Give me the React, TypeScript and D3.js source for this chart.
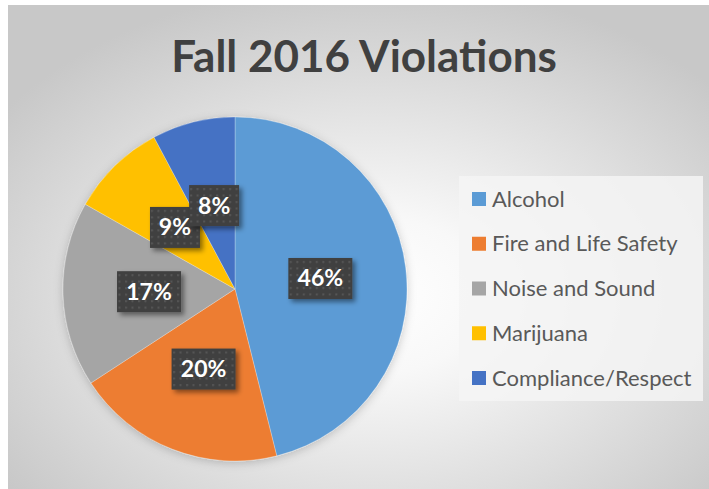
import React from "react";
import * as d3 from "d3";

const categories = ["Alcohol", "Fire and Life Safety", "Noise and Sound", "Marijuana", "Compliance/Respect"];
const values = [46.1, 19.7, 17.4, 9.0, 7.8];
const labels = ["46%", "20%", "17%", "9%", "8%"];
const colors = ["#5B9BD5", "#ED7D31", "#A5A5A5", "#FFC000", "#4472C4"];
const title = "Fall 2016 Violations";

const W = 709;
const H = 489;
const cx = 235;
const cy = 289;
const R = 172;

export default function App() {
  const pie = d3.pie<number>().sort(null).value((d) => d);
  const arcs = pie(values);
  const arc = d3.arc<d3.PieArcDatum<number>>().innerRadius(0).outerRadius(R);
  const labelArc = d3.arc<d3.PieArcDatum<number>>().innerRadius(0).outerRadius(R);
  const legendY = d3.scalePoint<string>().domain(categories).range([199, 378]);
  const font = "Lato, 'Open Sans', sans-serif";

  return (
    <svg
      width={W}
      height={H}
      style={{ position: "absolute", left: 0, top: 0, display: "block" }}
    >
      <defs>
        <radialGradient id="bg" cx="0.52" cy="0.6" r="0.65">
          <stop offset="0" stopColor="#ffffff" />
          <stop offset="0.25" stopColor="#f8f8f8" />
          <stop offset="1" stopColor="#c8c8c8" />
        </radialGradient>
        <pattern id="dots" width="6.5" height="6.5" patternUnits="userSpaceOnUse">
          <rect width="6.5" height="6.5" fill="#404040" />
          <rect x="2" y="2" width="2" height="2" fill="#575757" />
        </pattern>
        <filter id="pieShadow" x="-20%" y="-20%" width="140%" height="140%">
          <feDropShadow dx="0" dy="2" stdDeviation="5" floodColor="#000" floodOpacity="0.2" />
        </filter>
        <filter id="boxShadow" x="-30%" y="-30%" width="160%" height="160%">
          <feDropShadow dx="3" dy="3" stdDeviation="2.5" floodColor="#000" floodOpacity="0.45" />
        </filter>
      </defs>
      <rect x={0} y={0} width={W} height={H} fill="#ffffff" />
      <rect x={8} y={5} width={W - 8} height={H - 5} fill="url(#bg)" />
      <text
        x={364}
        y={72}
        textAnchor="middle"
        fontFamily={font}
        fontWeight="bold"
        fontSize={44}
        fill="#404040"
      >
        {title}
      </text>
      <g transform={`translate(${cx},${cy})`}>
        <g filter="url(#pieShadow)">
          {arcs.map((a, i) => (
            <path key={i} d={arc(a) || ""} fill={colors[i]} stroke="#ffffff" strokeOpacity={0.35} strokeWidth={0.75} />
          ))}
        </g>
        {arcs.map((a, i) => {
          const [lx, ly] = labelArc.centroid(a);
          const bw = labels[i].length > 2 ? 64 : 50;
          const bh = 41;
          return (
            <g key={"l" + i} transform={`translate(${lx},${ly})`}>
              <rect
                x={-bw / 2}
                y={-bh / 2}
                width={bw}
                height={bh}
                fill="url(#dots)"
                filter="url(#boxShadow)"
              />
              <text
                x={0}
                y={8}
                textAnchor="middle"
                fontFamily={font}
                fontWeight="bold"
                fontSize={23}
                fill="#ffffff"
              >
                {labels[i]}
              </text>
            </g>
          );
        })}
      </g>
      <rect x={459} y={176} width={244} height={225} fill="#f4f4f4" fillOpacity={0.85} />
      {categories.map((c, i) => {
        const y = legendY(c) as number;
        return (
          <g key={"lg" + i}>
            <rect x={472} y={y - 7} width={14} height={14} fill={colors[i]} />
            <text x={492} y={y + 7.5} fontFamily={font} fontSize={22} fill="#595959">
              {c}
            </text>
          </g>
        );
      })}
    </svg>
  );
}
